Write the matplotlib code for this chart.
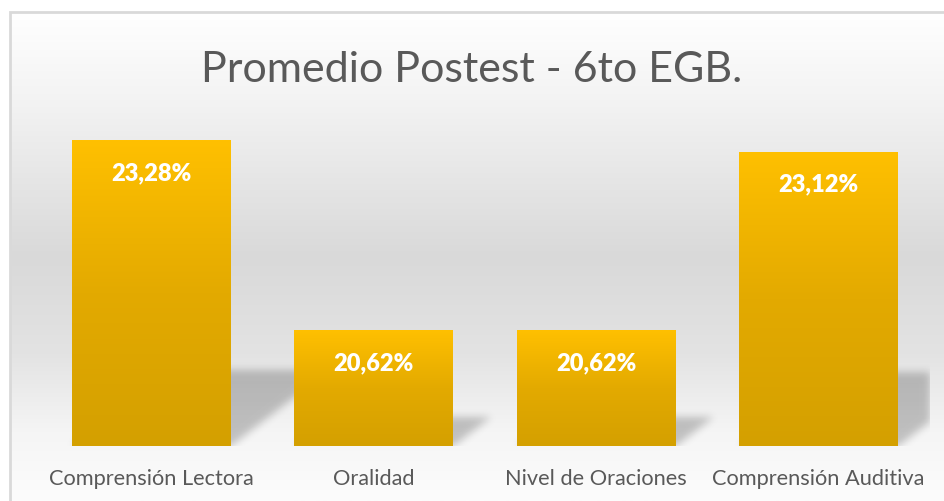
import numpy as np
import matplotlib
matplotlib.use('Agg')
import matplotlib.pyplot as plt
from matplotlib.colors import LinearSegmentedColormap
from matplotlib.path import Path
from matplotlib.patches import Rectangle

categorias = ['Comprensión Lectora', 'Oralidad', 'Nivel de Oraciones', 'Comprensión Auditiva']
valores = [23.28, 20.62, 20.62, 23.12]
titulo = 'Promedio Postest - 6to EGB.'
y_min, y_max = 19, 24

W_PX, H_PX = 944, 502
fig = plt.figure(figsize=(W_PX / 100, H_PX / 100), dpi=100)
fig.patch.set_facecolor('white')

# fondo con degradado (area del grafico)
bg = fig.add_axes([0, 0, 1, 1], zorder=0)
bg.set_axis_off()
bg_cmap = LinearSegmentedColormap.from_list('bg', [
    (0.0, '#ffffff'), (0.18, '#f3f3f3'), (0.50, '#d9d9d9'),
    (0.70, '#e3e3e3'), (0.86, '#f5f5f5'), (1.0, '#fcfcfc')])
left_px, top_px = 10, 13
grad = np.linspace(0, 1, 256).reshape(-1, 1)
bg.imshow(grad, cmap=bg_cmap, aspect='auto', origin='upper',
          extent=(left_px / W_PX, 1, 0, 1 - top_px / H_PX))
bg.add_patch(Rectangle((left_px / W_PX, -0.01), 1.1, 1 - top_px / H_PX + 0.01,
                       fill=False, edgecolor='#d9d9d9', linewidth=2))
bg.set_xlim(0, 1)
bg.set_ylim(0, 1)

ax_l, ax_b, ax_w, ax_h = 40.3, 55, 889.4, 357
ax = fig.add_axes([ax_l / W_PX, ax_b / H_PX, ax_w / W_PX, ax_h / H_PX], zorder=1)
ax.set_facecolor('none')
x = np.arange(len(categorias))
ancho = 0.715
xlim = (-0.5, len(categorias) - 0.5)

# sombras en perspectiva (mascara difuminada)
gw, gh = int(ax_w), int(ax_h)
xx, yy = np.meshgrid(np.arange(gw) + 0.5, np.arange(gh) + 0.5)
pts = np.column_stack([xx.ravel(), yy.ravel()])
mask = np.zeros(gw * gh)
for xi, v in zip(x, valores):
    x0 = (xi - ancho / 2 - xlim[0]) / (xlim[1] - xlim[0]) * gw
    x1 = (xi + ancho / 2 - xlim[0]) / (xlim[1] - xlim[0]) * gw
    hb = (v - y_min) / (y_max - y_min) * gh
    h = 0.25 * hb
    dx = 1.3 * h
    poly = Path([(x0, 0), (x1, 0), (x1 + dx, h), (x0 + dx, h), (x0, 0)])
    mask = np.maximum(mask, poly.contains_points(pts).astype(float))
mask = mask.reshape(gh, gw)
sig = 4.0
k = np.arange(-12, 13)
kern = np.exp(-k**2 / (2 * sig**2))
kern /= kern.sum()
mask = np.apply_along_axis(lambda r: np.convolve(r, kern, mode='same'), 1, mask)
mask = np.apply_along_axis(lambda c: np.convolve(c, kern, mode='same'), 0, mask)
sombra = np.zeros((gh, gw, 4))
sombra[..., 3] = 0.22 * mask
ax.imshow(sombra, extent=(xlim[0], xlim[1], y_min, y_max), origin='lower',
          aspect='auto', zorder=1, interpolation='bilinear')

# barras con degradado
bar_cmap = LinearSegmentedColormap.from_list('bar', ['#d4a000', '#e3aa00', '#ffc000'])
barras = ax.bar(x, valores, width=ancho, color='none', zorder=2)
for b, v in zip(barras, valores):
    im = ax.imshow(np.linspace(0, 1, 256).reshape(-1, 1), cmap=bar_cmap, origin='lower',
                   aspect='auto', zorder=2,
                   extent=(b.get_x(), b.get_x() + b.get_width(), y_min, v))
    im.set_clip_path(b)
    ax.annotate(f'{v:.2f}'.replace('.', ',') + '%', xy=(b.get_x() + b.get_width() / 2, v),
                xytext=(0, -23), textcoords='offset points', ha='center', va='center',
                color='white', fontsize=17, fontweight='heavy', family='Lato', zorder=3)

ax.set_xlim(*xlim)
ax.set_ylim(y_min, y_max)
ax.set_xticks(x)
ax.set_xticklabels(categorias, fontsize=15.7, color='#595959', family='Lato')
ax.tick_params(axis='x', length=0, pad=16)
ax.set_yticks([])
for s in ax.spines.values():
    s.set_visible(False)

fig.text(0.5, 1 - 70 / H_PX, titulo, ha='center', va='center', fontsize=31,
         color='#595959', family='Lato')

fig.savefig('out.png', dpi=100)
